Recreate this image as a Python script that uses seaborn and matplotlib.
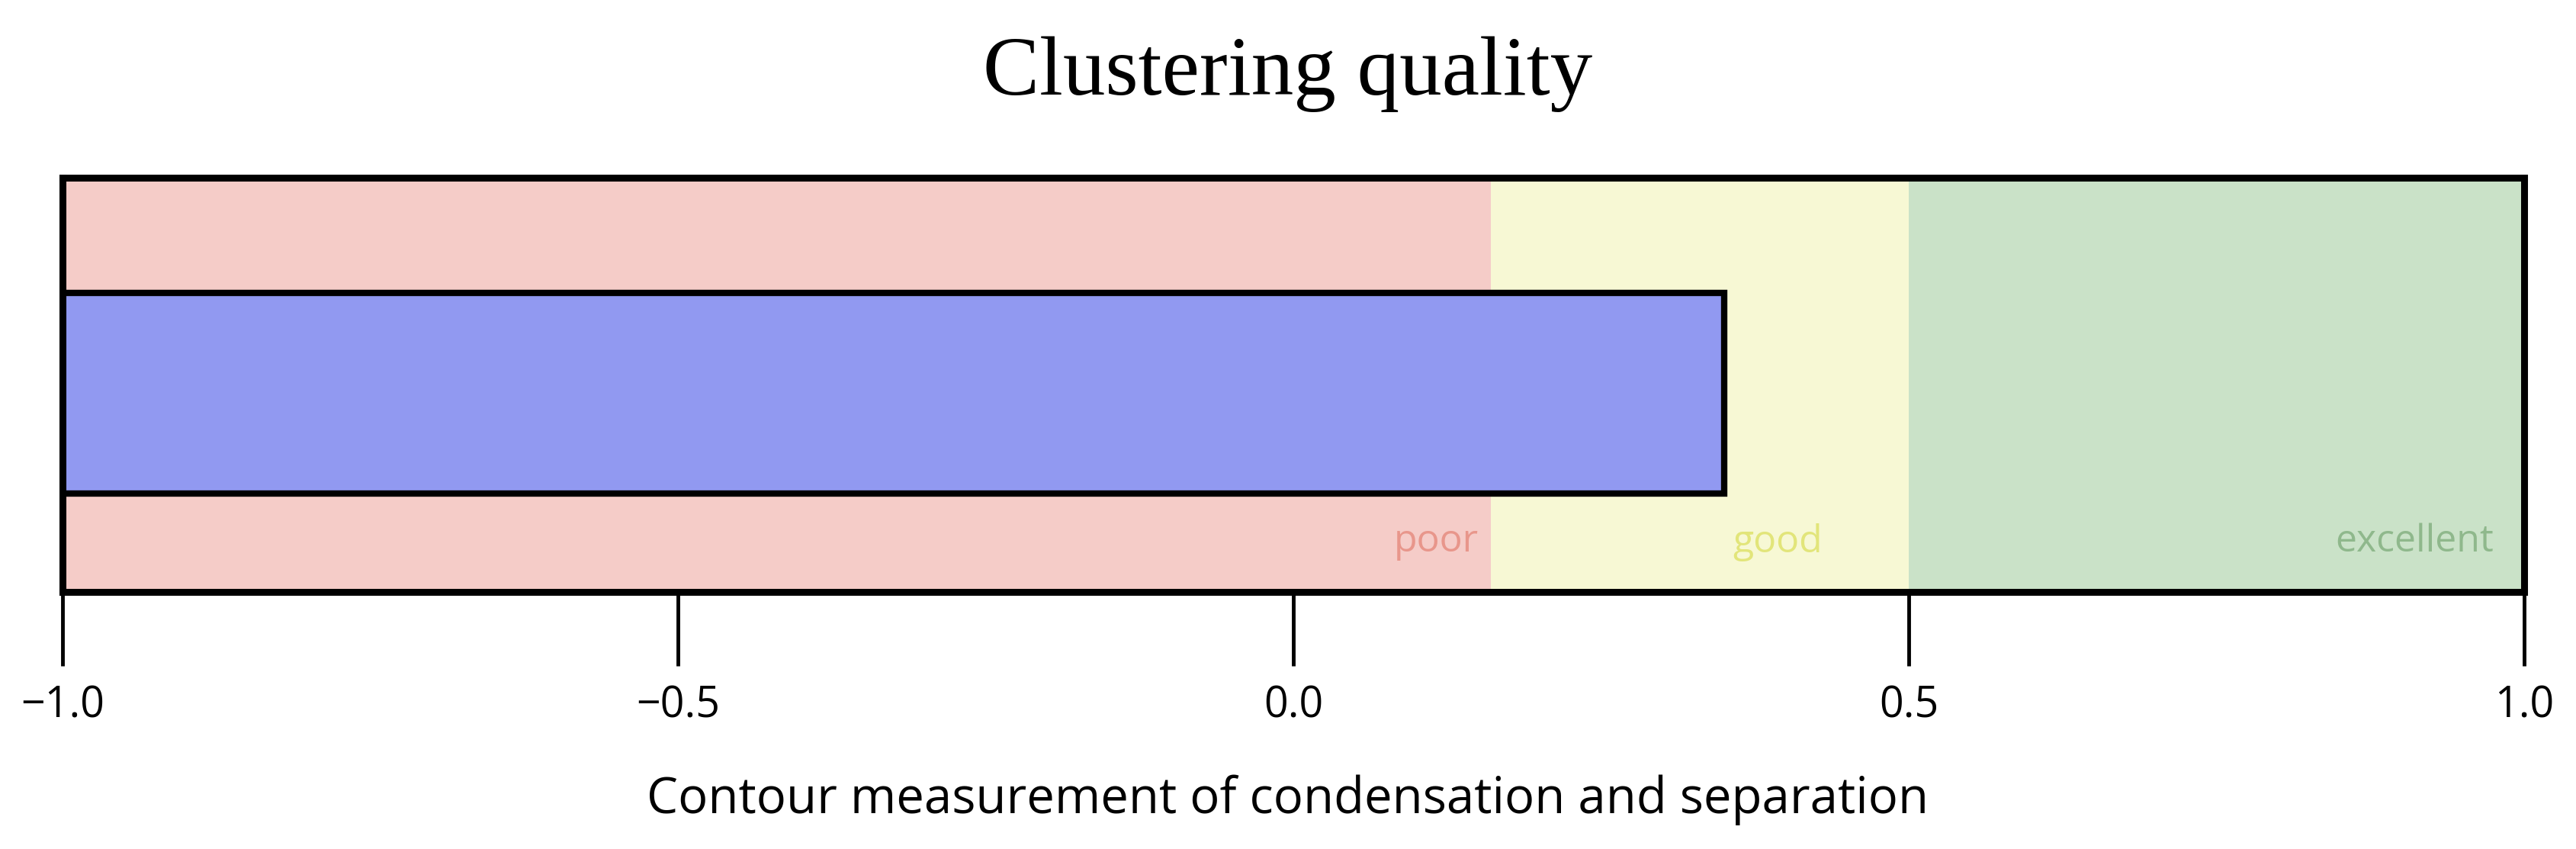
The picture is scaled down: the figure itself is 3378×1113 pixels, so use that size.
import matplotlib
matplotlib.use("Agg")
import matplotlib.pyplot as plt
import seaborn as sns
import pandas as pd

# --- data ---
metric = ["Silhouette"]
score = [0.35]
x_min, x_max = -1.0, 1.0
band_names = ["poor", "good", "excellent"]
band_edges = [-1.0, 0.16, 0.5, 1.0]
band_colors = ["#f5ccc8", "#f7f8d4", "#cae2c8"]
band_text_colors = ["#e8968b", "#e2e57a", "#8fb88c"]
band_label_x = [0.15, 0.43, 0.975]
ticks = [-1.0, -0.5, 0.0, 0.5, 1.0]

sns.set_style("white")
plt.rcParams["font.family"] = ["Open Sans", "DejaVu Sans"]
plt.rcParams["text.color"] = "black"

fig = plt.figure(figsize=(33.78, 11.13), dpi=100)
ax = fig.add_axes([0.0243, 0.303, 0.9557, 0.488])

# bandas de fondo
for i in range(len(band_names)):
    ax.axvspan(band_edges[i], band_edges[i + 1], color=band_colors[i], lw=0, zorder=0)
    ax.text(band_label_x[i], 0.12, band_names[i], transform=ax.get_xaxis_transform(),
            ha="right", va="center", fontsize=36, color=band_text_colors[i], zorder=1)

# barra principal, medida desde el inicio del eje
df = pd.DataFrame({"metric": metric, "length": [s - x_min for s in score]})
sns.barplot(data=df, x="length", y="metric", orient="h", ax=ax, color="#9199f1",
            saturation=1, width=0.8, left=x_min, edgecolor="black", linewidth=6,
            errorbar=None, zorder=2)

ax.set_xlim(x_min, x_max)
ax.set_ylim(0.793, -0.86)
ax.set_yticks([])
ax.set_ylabel("")
ax.set_xticks(ticks)
ax.set_xticklabels([f"{t:.1f}".replace("-", "\u2212") for t in ticks])
ax.tick_params(axis="x", direction="out", length=70, width=3.5, pad=18, labelsize=40,
               colors="black", labelcolor="black", bottom=True)
for sp in ax.spines.values():
    sp.set_visible(True)
    sp.set_linewidth(6.5)
    sp.set_color("black")
    sp.set_zorder(5)
ax.set_xlabel("")

fig.text(0.5, 0.0575, "Contour measurement of condensation and separation",
         ha="center", va="center", fontsize=47, color="black")
fig.text(0.5, 0.913, "Clustering quality", ha="center", va="center", fontsize=80,
         color="black", family=["Liberation Serif", "DejaVu Serif"])

fig.savefig("out.png", dpi=100)
